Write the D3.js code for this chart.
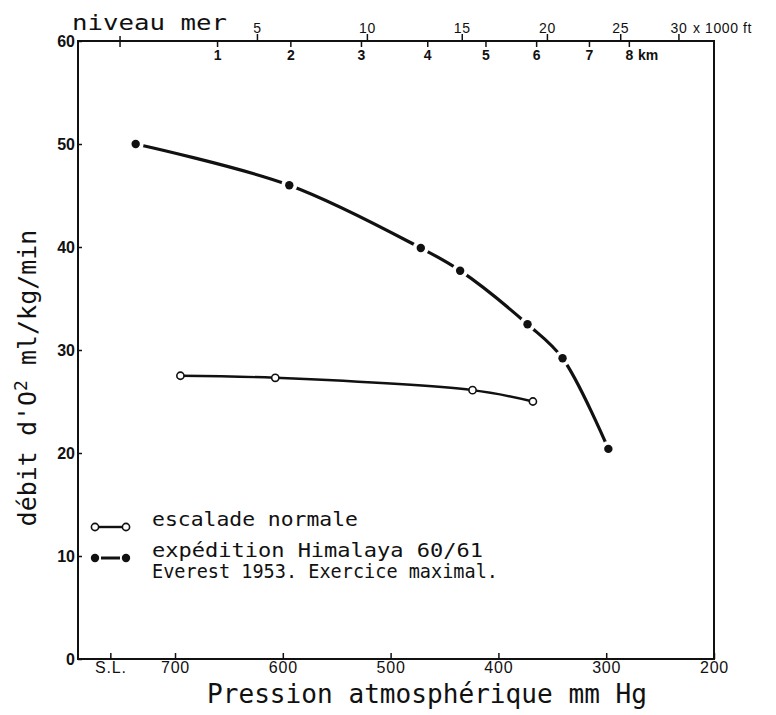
<!DOCTYPE html>
<html><head><meta charset="utf-8">
<script src="https://cdn.jsdelivr.net/npm/d3@7"></script>
<style>
html,body{margin:0;padding:0;background:#fff;}
svg{display:block;}
.ax text{font-family:"Liberation Sans",Arial,sans-serif;fill:#111;}
.mono{font-family:"DejaVu Sans Mono",monospace;fill:#111;}
</style></head>
<body>
<svg id="c" width="776" height="715"></svg>
<script>
// ---- data ----
const pressureTicks = [760, 700, 600, 500, 400, 300, 200];
const pressureLabels = ["S.L.", "700", "600", "500", "400", "300", "200"];
const yTicks = [0, 10, 20, 30, 40, 50, 60];
const ftTickPressure = [624, 522, 434, 355, 287, 233];
const ftLabels = ["5", "10", "15", "20", "25", "30"];
const kmTickPressure = [661, 593, 527.5, 466, 412, 365, 316, 279];
const kmLabels = ["1", "2", "3", "4", "5", "6", "7", "8"];
const seaLevelPressure = 751;

const expPressure = [736.5, 594, 472, 435.5, 373, 340.5, 298];
const expValue = [50.0, 46.0, 39.9, 37.7, 32.5, 29.2, 20.4];
const normPressure = [695, 607, 424, 368];
const normValue = [27.5, 27.3, 26.1, 25.0];

const legendLabels = ["escalade normale", "expédition Himalaya 60/61", "Everest 1953. Exercice maximal."];

// ---- layout ----
const L = 78, R = 714, T = 41, B = 659;
const x = d3.scaleLinear().domain([790, 200]).range([L, R]);
const y = d3.scaleLinear().domain([0, 60]).range([B, T]);
const svg = d3.select("#c");
const ink = "#111";

// frame
svg.append("rect").attr("x", L).attr("y", T).attr("width", R - L).attr("height", B - T)
  .attr("fill", "none").attr("stroke", ink).attr("stroke-width", 2);

// bottom axis
const gb = svg.append("g").attr("class", "ax").attr("transform", `translate(0,${B})`)
  .call(d3.axisBottom(x).tickValues(pressureTicks).tickFormat((d, i) => pressureLabels[i])
    .tickSizeInner(-6).tickSizeOuter(0).tickPadding(3));
gb.select(".domain").remove();
gb.selectAll("text").attr("font-size", 16).attr("letter-spacing", 0.8);
gb.selectAll("line").attr("stroke", ink).attr("stroke-width", 1.5);

// left axis
const gl = svg.append("g").attr("class", "ax").attr("transform", `translate(${L},0)`)
  .call(d3.axisLeft(y).tickValues(yTicks).tickSizeInner(-4).tickSizeOuter(0).tickPadding(3));
gl.select(".domain").remove();
gl.selectAll("text").attr("font-size", 16).attr("font-weight", "bold");
gl.selectAll("line").attr("stroke", ink).attr("stroke-width", 1.5);

// top axis : feet (above)
const gf = svg.append("g").attr("class", "ax").attr("transform", `translate(0,${T})`)
  .call(d3.axisTop(x).tickValues(ftTickPressure).tickFormat((d, i) => ftLabels[i])
    .tickSizeInner(7).tickSizeOuter(0).tickPadding(1));
gf.select(".domain").remove();
gf.selectAll("text").attr("font-size", 14).attr("letter-spacing", 0.6);
gf.selectAll("line").attr("stroke", ink).attr("stroke-width", 1.5);

// top axis : km (below)
const gk = svg.append("g").attr("class", "ax").attr("transform", `translate(0,${T})`)
  .call(d3.axisBottom(x).tickValues(kmTickPressure).tickFormat((d, i) => kmLabels[i])
    .tickSizeInner(6).tickSizeOuter(0).tickPadding(3));
gk.select(".domain").remove();
gk.selectAll("text").attr("font-size", 14).attr("font-weight", "bold");
gk.selectAll("line").attr("stroke", ink).attr("stroke-width", 1.5);

// sea level tick
svg.append("line").attr("x1", x(seaLevelPressure)).attr("x2", x(seaLevelPressure))
  .attr("y1", T - 5).attr("y2", T + 6).attr("stroke", ink).attr("stroke-width", 1.5);

svg.append("text").attr("class", "mono").attr("x", 72).attr("y", 30)
  .attr("font-size", 22).attr("textLength", 155).attr("lengthAdjust", "spacingAndGlyphs").text("niveau mer");
svg.append("text").attr("x", 693).attr("y", 33)
  .attr("font-family", "Liberation Sans, Arial, sans-serif").attr("font-size", 14).attr("fill", ink)
  .attr("letter-spacing", 0.6).text("x 1000 ft");
svg.append("text").attr("x", 638).attr("y", 60)
  .attr("font-family", "Liberation Sans, Arial, sans-serif").attr("font-size", 14).attr("fill", ink)
  .attr("font-weight", "bold").text("km");

// axis titles
svg.append("text").attr("class", "mono").attr("x", 207).attr("y", 703).attr("font-size", 26)
  .attr("textLength", 440).attr("lengthAdjust", "spacingAndGlyphs").text("Pression atmosphérique mm Hg");
const yl = svg.append("text").attr("class", "mono").attr("font-size", 25)
  .attr("transform", "translate(36,378) rotate(-90)").attr("text-anchor", "middle");
yl.append("tspan").text("débit d'O");
yl.append("tspan").attr("font-size", 18).attr("dy", -9).text("2");
yl.append("tspan").attr("dy", 9).text(" ml/kg/min");

// expedition curve
const expPts = expPressure.map((p, i) => [x(p), y(expValue[i])]);
svg.append("path").attr("d", d3.line().curve(d3.curveCatmullRom.alpha(0.5))(expPts))
  .attr("fill", "none").attr("stroke", ink).attr("stroke-width", 3.2).attr("stroke-linecap", "round");
svg.selectAll(".gap").data(expPts).enter().append("circle")
  .attr("cx", d => d[0]).attr("cy", d => d[1]).attr("r", 8).attr("fill", "#fff");
svg.selectAll(".dot").data(expPts).enter().append("circle")
  .attr("cx", d => d[0]).attr("cy", d => d[1]).attr("r", 4.2).attr("fill", ink);

// normal curve
const normPts = normPressure.map((p, i) => [x(p), y(normValue[i])]);
svg.append("path").attr("d", d3.line().curve(d3.curveCatmullRom.alpha(0.5))(normPts))
  .attr("fill", "none").attr("stroke", ink).attr("stroke-width", 2.4);
svg.selectAll(".odot").data(normPts).enter().append("circle")
  .attr("cx", d => d[0]).attr("cy", d => d[1]).attr("r", 3.6).attr("fill", "#fff")
  .attr("stroke", ink).attr("stroke-width", 1.6);

// legend
const ly1 = 527, ly2 = 558;
svg.append("line").attr("x1", 95).attr("x2", 126).attr("y1", ly1).attr("y2", ly1)
  .attr("stroke", ink).attr("stroke-width", 2.4);
[95, 126].forEach(cx => svg.append("circle").attr("cx", cx).attr("cy", ly1).attr("r", 3.6)
  .attr("fill", "#fff").attr("stroke", ink).attr("stroke-width", 1.6));
svg.append("line").attr("x1", 101).attr("x2", 120).attr("y1", ly2).attr("y2", ly2)
  .attr("stroke", ink).attr("stroke-width", 3);
[95, 126].forEach(cx => svg.append("circle").attr("cx", cx).attr("cy", ly2).attr("r", 4.2).attr("fill", ink));

const legendSpec = [[526, 20, 206], [557, 19, 331], [578, 19, 346]];
legendLabels.forEach((t, i) => {
  svg.append("text").attr("class", "mono").attr("x", 152).attr("y", legendSpec[i][0])
    .attr("font-size", legendSpec[i][1]).attr("textLength", legendSpec[i][2])
    .attr("lengthAdjust", "spacingAndGlyphs").text(t);
});
</script>
</body></html>
